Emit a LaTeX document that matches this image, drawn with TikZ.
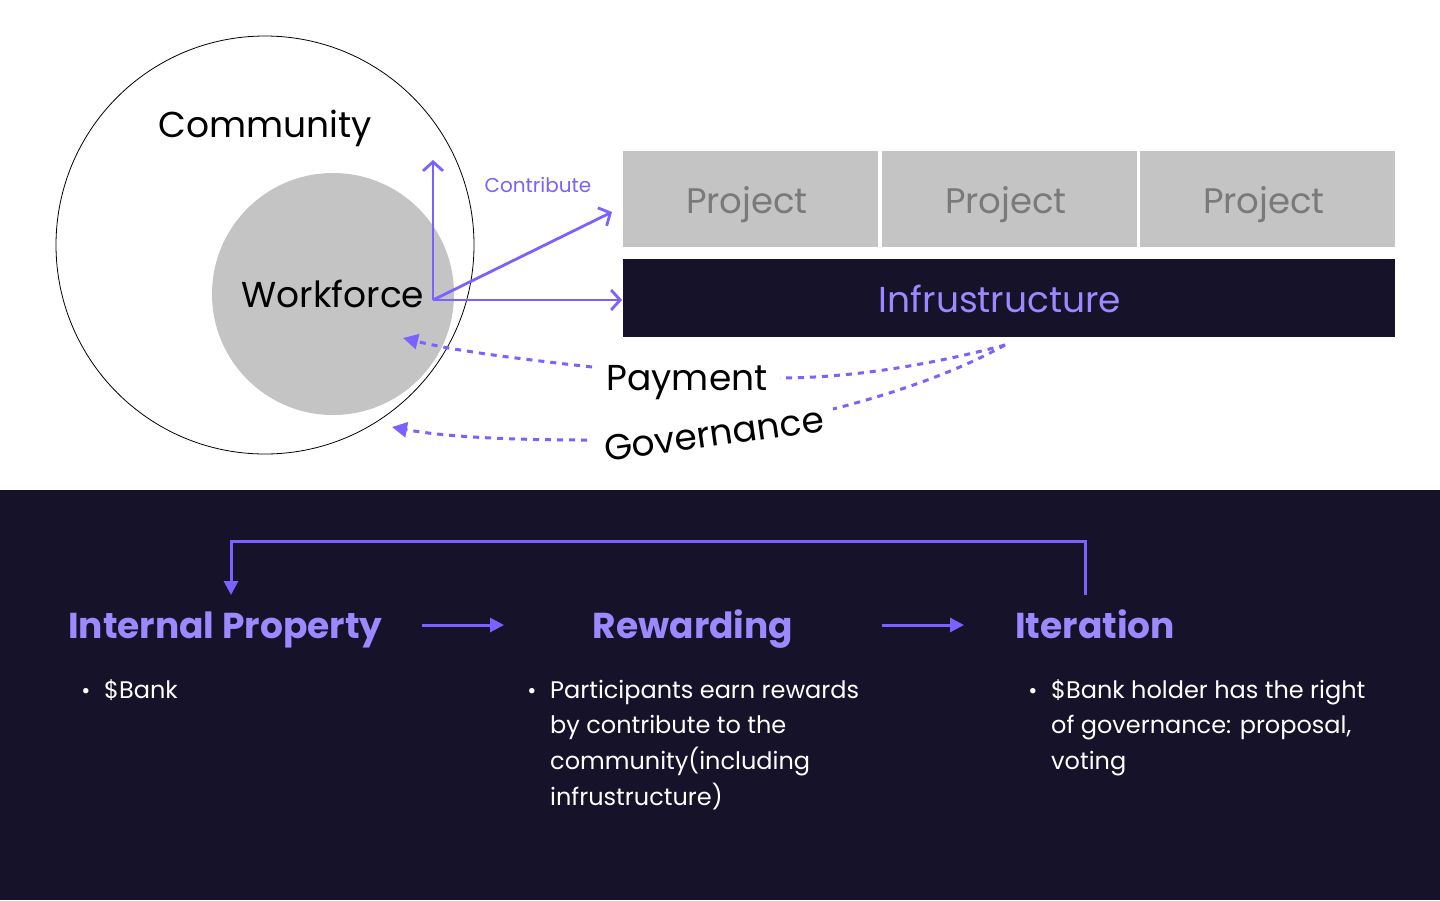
\documentclass[tikz,border=0pt]{standalone}
\usepackage{fontspec}
\setmainfont{Poppins}
\usetikzlibrary{arrows.meta}
\definecolor{darkbg}{HTML}{151229}
\definecolor{vio}{HTML}{7B61FF}
\definecolor{lvio}{HTML}{9C88FF}
\definecolor{lgray}{HTML}{C4C4C4}
\definecolor{tgray}{HTML}{7A7A7A}
\tikzset{
  fs/.style={font=\fontsize{#1}{#1}\selectfont},
  carrow/.style={draw=vio, line width=2.8pt, -{Straight Barb[length=9pt,width=20pt,line width=2.8pt]}},
  darrow/.style={draw=vio, line width=3pt, dash pattern=on 6pt off 6pt, -{Triangle[length=15pt,width=15pt]}},
  dline/.style={draw=vio, line width=3pt, dash pattern=on 6pt off 6pt},
  flowarrow/.style={draw=vio, line width=3pt, -{Triangle[length=14pt,width=14pt]}},
  projbox/.style={fill=lgray, minimum width=255pt, minimum height=96pt, inner sep=0pt},
  projtext/.style={anchor=base, text=tgray, fs=35.5, inner sep=0pt},
  heading/.style={anchor=base west, text=lvio, font=\fontsize{36}{36}\selectfont\bfseries, inner sep=0pt},
  bullettext/.style={anchor=base west, text=white, font=\fontsize{24}{35.8}\selectfont, inner sep=0pt},
  bulletdot/.style={anchor=base, text=white, fs=22, inner sep=0pt},
}
\begin{document}
\begin{tikzpicture}[x=1pt,y=-1pt]
\useasboundingbox (0,0) rectangle (1440,900);
\fill[white] (0,0) rectangle (1440,490);
\fill[darkbg] (0,490) rectangle (1440,900);

% community circles
\node[circle, draw=black, line width=0.8pt, minimum size=418pt, inner sep=0pt] (comm) at (265,245) {};
\node[anchor=base, fs=36, inner sep=0pt] (commlabel) at (265,137) {Community};
\node[circle, fill=lgray, minimum size=242pt, inner sep=0pt] (wfc) at (333,294) {};
\node[anchor=base, fs=36, inner sep=0pt] (wf) at (333,307) {Workforce};

% projects and infrastructure
\node[projbox] (p1) at (750.5,199) {};
\node[projbox] (p2) at (1009.5,199) {};
\node[projbox] (p3) at (1267.5,199) {};
\node[projtext] (p1t) at (747,213) {Project};
\node[projtext] (p2t) at (1006,213) {Project};
\node[projtext] (p3t) at (1264,213) {Project};
\node[fill=darkbg, minimum width=772pt, minimum height=78pt, inner sep=0pt] (infra) at (1009,298) {};
\node[anchor=base, text=lvio, fs=36, inner sep=0pt] (infratext) at (1000,312) {Infrustructure};

% contribute arrows
\coordinate (o) at (433,300);
\coordinate (up) at (433,160);
\coordinate (diag) at (612,212);
\coordinate (right) at (622,300);
\draw[carrow] (o) -- (up);
\draw[carrow] (o) -- (diag);
\draw[carrow] (o) -- (right);
\node[text=vio, fs=20, inner sep=0pt] (contrib) at (538,185) {Contribute};

% payment / governance
\node[anchor=base, fs=36, inner sep=0pt] (pay) at (687,390) {Payment};
\node[fs=36, inner sep=0pt, rotate=8] (gov) at (714,434) {Governance};
\coordinate (src) at (1005,345);
\coordinate (paytip) at (403,338);
\coordinate (govtip) at (392,427);
\coordinate (payR) at (780,378);
\coordinate (payL) at (592,367);
\coordinate (govR) at (833,409);
\coordinate (govL) at (587,440);
\draw[dline] (src) .. controls (930,365) and (850,378) .. (payR);
\draw[dline] (src) .. controls (960,370) and (900,392) .. (govR);
\draw[darrow] (payL) .. controls (530,360) and (460,352) .. (paytip);
\draw[darrow] (govL) .. controls (500,440) and (440,436) .. (govtip);

% bottom flow
\node[heading] (ip) at (68,638) {Internal Property};
\node[heading, anchor=base] (rw) at (693,638) {Rewarding};
\node[heading] (it) at (1015,638) {Iteration};
\coordinate (ipTop) at (231,595);
\coordinate (itTop) at (1085,595);
\draw[flowarrow] (itTop) -- (1085,541) -- (231,541) -- (ipTop);
\coordinate (a1s) at (422,625);
\coordinate (a1e) at (504,625);
\coordinate (a2s) at (882,625);
\coordinate (a2e) at (964,625);
\draw[flowarrow] (a1s) -- (a1e);
\draw[flowarrow] (a2s) -- (a2e);

% bullets
\node[bulletdot] (b1) at (86,698) {\textbullet};
\node[bullettext] (t1) at (104,698) {\$Bank};
\node[bulletdot] (b2) at (532,698) {\textbullet};
\node[bullettext] (t2) at (550,698) {\parbox[t]{400pt}{\raggedright Participants earn rewards\\by contribute to the\\community(including\\infrustructure)}};
\node[bulletdot] (b3) at (1033,698) {\textbullet};
\node[bullettext] (t3) at (1051,698) {\parbox[t]{380pt}{\raggedright \$Bank holder has the right\\of governance: proposal,\\voting}};
\end{tikzpicture}
\end{document}
